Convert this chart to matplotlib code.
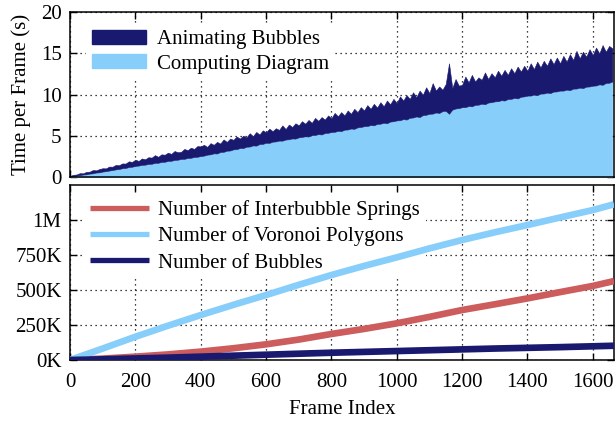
"""Per-frame timing and element counts for the bubble simulation."""

import matplotlib
matplotlib.use("Agg")
import matplotlib.pyplot as plt
import numpy as np
from matplotlib.ticker import FuncFormatter

# top panel: seconds per frame, sampled every 10 frames
frame_step = 10
total_time = [
    0.2, 0.32, 0.36, 0.52, 0.5, 0.68, 0.7, 0.9, 0.86, 1.02,
    1.12, 1.1, 1.32, 1.3, 1.52, 1.48, 1.7, 1.68, 1.95, 1.88,
    2.15, 2.0, 2.3, 2.2, 2.45, 2.4, 2.7, 2.5, 2.8, 2.75,
    3.0, 2.85, 3.2, 3.05, 3.1, 3.45, 3.3, 3.6, 3.45, 3.8,
    3.75, 3.95, 3.7, 4.15, 3.95, 4.3, 4.1, 4.6, 4.3, 4.7,
    4.55, 4.95, 4.7, 5.05, 4.85, 5.35, 5.0, 5.5, 5.2, 5.7,
    5.45, 5.9, 5.6, 5.95, 5.75, 6.3, 5.85, 6.4, 6.1, 6.55,
    6.3, 6.8, 6.5, 6.95, 6.6, 7.2, 6.85, 7.3, 7.0, 7.5,
    7.15, 7.8, 7.4, 7.9, 7.5, 8.1, 7.7, 8.3, 7.9, 8.5,
    8.1, 8.75, 8.3, 8.9, 8.45, 9.1, 8.6, 9.3, 8.85, 9.5,
    9.0, 9.8, 9.3, 9.95, 9.5, 10.3, 9.7, 10.5, 10.0, 10.9,
    10.2, 11.4, 10.5, 11.0, 10.6, 11.3, 13.8, 10.8, 11.9, 11.1,
    11.2, 12.2, 11.5, 12.4, 11.6, 12.1, 11.8, 12.7, 11.9, 12.6,
    12.1, 12.9, 12.3, 13.0, 12.4, 13.2, 12.6, 13.4, 12.8, 13.5,
    12.9, 13.8, 13.1, 14.0, 13.3, 14.1, 13.5, 14.4, 13.7, 14.5,
    13.8, 14.7, 14.0, 14.9, 14.2, 15.3, 14.4, 15.2, 14.6, 15.5,
    14.8, 15.7, 15.0, 16.0, 15.2, 15.9, 15.6,
]
compute_time = [
    0.1, 0.15, 0.24, 0.27, 0.36, 0.38, 0.47, 0.5, 0.6, 0.62,
    0.72, 0.76, 0.84, 0.9, 0.98, 1.02, 1.12, 1.15, 1.26, 1.3,
    1.4, 1.44, 1.52, 1.55, 1.64, 1.66, 1.76, 1.78, 1.88, 1.9,
    2.0, 2.02, 2.12, 2.15, 2.24, 2.25, 2.36, 2.38, 2.48, 2.5,
    2.6, 2.64, 2.76, 2.8, 2.92, 2.9, 3.08, 3.1, 3.24, 3.26,
    3.4, 3.42, 3.56, 3.55, 3.72, 3.74, 3.88, 3.85, 4.04, 4.06,
    4.2, 4.18, 4.33, 4.36, 4.46, 4.45, 4.59, 4.62, 4.72, 4.7,
    4.85, 4.9, 4.98, 4.95, 5.11, 5.14, 5.24, 5.2, 5.37, 5.4,
    5.5, 5.52, 5.64, 5.6, 5.78, 5.8, 5.92, 5.88, 6.06, 6.1,
    6.2, 6.22, 6.34, 6.3, 6.48, 6.5, 6.62, 6.55, 6.76, 6.8,
    6.9, 6.92, 7.06, 7.0, 7.22, 7.25, 7.38, 7.3, 7.54, 7.58,
    7.7, 7.72, 7.86, 7.8, 8.02, 8.05, 7.7, 8.2, 8.34, 8.38,
    8.5, 8.5, 8.64, 8.6, 8.78, 8.8, 8.92, 8.85, 9.06, 9.1,
    9.2, 9.22, 9.34, 9.3, 9.48, 9.5, 9.62, 9.55, 9.76, 9.8,
    9.9, 9.9, 10.02, 9.95, 10.14, 10.15, 10.26, 10.2, 10.38, 10.4,
    10.5, 10.5, 10.62, 10.55, 10.74, 10.75, 10.86, 10.8, 10.98, 11.0,
    11.1, 11.12, 11.26, 11.2, 11.42, 11.45, 11.6,
]

# bottom panel: element counts (thousands)
count_frames = [0, 100, 200, 300, 400, 500, 600, 700, 800, 900,
                1000, 1100, 1200, 1300, 1400, 1500, 1600, 1665]
springs = [0, 10, 24, 40, 60, 84, 112, 146, 186, 222,
           262, 308, 357, 398, 440, 485, 529, 564]
polygons = [0, 82, 166, 245, 321, 394, 464, 537, 607, 672,
            733, 797, 857, 912, 964, 1018, 1071, 1112]
bubbles = [0, 5, 11, 17, 24, 31, 38, 45, 52, 58,
           64, 70, 76, 82, 87, 92, 98, 102]

NAVY = "#191970"
SKY = "#87cefa"
RED = "#cd5c5c"

plt.rcParams["font.family"] = ["Liberation Serif", "DejaVu Serif"]
plt.rcParams["font.size"] = 15

frames = np.arange(len(total_time)) * frame_step

fig = plt.figure(figsize=(6.15, 4.24), dpi=100)
ax_top = fig.add_axes([0.1138, 0.5814, 0.8846, 0.3903])
ax_bot = fig.add_axes([0.1138, 0.1509, 0.8846, 0.4128])

grid_kw = dict(color="black", linestyle=(0, (1, 3)), linewidth=0.9)

for ax in (ax_top, ax_bot):
    ax.set_axisbelow(True)
    ax.grid(True, **grid_kw)
    ax.tick_params(direction="in", length=5, width=1.0, top=True, right=True)
    ax.tick_params(axis="y", pad=6)
    ax.tick_params(axis="x", pad=9)
    for s in ax.spines.values():
        s.set_linewidth(1.1)
    ax.set_xlim(0, 1665)
    ax.set_xticks(range(0, 1601, 200))

legend_kw = dict(loc="upper left", borderaxespad=0, borderpad=0.3,
                 frameon=True, fancybox=False, edgecolor="none",
                 facecolor="white", framealpha=1)

# top: stacked time per frame
ax_top.fill_between(frames, 0, compute_time, color=SKY, linewidth=0)
ax_top.fill_between(frames, compute_time, total_time, color=NAVY,
                    linewidth=0.4, edgecolor=NAVY)
ax_top.fill_between([], [], color=NAVY, label="Animating Bubbles")
ax_top.fill_between([], [], color=SKY, label="Computing Diagram")
ax_top.set_ylim(0, 20)
ax_top.set_yticks([0, 5, 10, 15, 20])
ax_top.tick_params(labelbottom=False)
ax_top.set_ylabel("Time per Frame (s)", labelpad=7)
leg = ax_top.legend(bbox_to_anchor=(0.029, 0.93), labelspacing=0.25,
                    handlelength=2.6, handleheight=0.65, handletextpad=0.5,
                    **legend_kw)
leg.set_zorder(1.5)

# bottom: element counts
for vals, col, lab in [(springs, RED, "Number of Interbubble Springs"),
                       (polygons, SKY, "Number of Voronoi Polygons"),
                       (bubbles, NAVY, "Number of Bubbles")]:
    ax_bot.plot(count_frames, np.array(vals) * 1e3, color=col, linewidth=4.8,
                solid_capstyle="butt", label=lab, zorder=3)
ax_bot.set_ylim(0, 1.25e6)
ax_bot.set_yticks([0, 250e3, 500e3, 750e3, 1e6])
ax_bot.yaxis.set_major_formatter(
    FuncFormatter(lambda v, _: "1M" if v >= 1e6 else f"{v / 1e3:.0f}K"))
ax_bot.set_xlabel("Frame Index", labelpad=6)
leg = ax_bot.legend(bbox_to_anchor=(0.026, 0.95), labelspacing=0.32,
                    handlelength=2.8, handletextpad=0.45, **legend_kw)
for ln in leg.get_lines():
    ln.set_linewidth(3.8)
leg.set_zorder(1.5)

fig.savefig("out.png", dpi=100)
